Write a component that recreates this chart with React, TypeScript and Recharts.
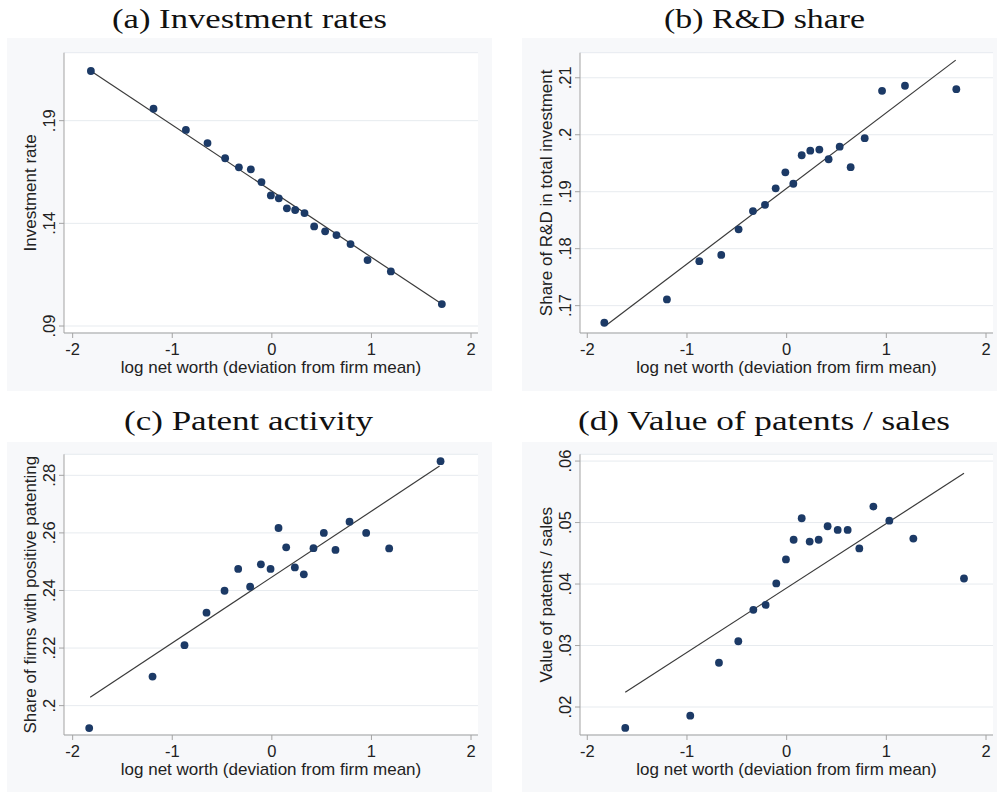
import { ScatterChart, Scatter, XAxis, YAxis, CartesianGrid, ReferenceLine } from 'recharts';

// shared x axis ticks: log net worth, deviation from firm mean
const xTicks = [-2, -1, 0, 1, 2];

// (a) investment rates
const invX = [-1.817, -1.188, -0.863, -0.646, -0.469, -0.331, -0.211, -0.104, -0.010, 0.070, 0.151, 0.234, 0.328, 0.425, 0.535, 0.649, 0.790, 0.961, 1.195, 1.707];
const invY = [0.2142, 0.1958, 0.1855, 0.1791, 0.1717, 0.1673, 0.1663, 0.1601, 0.1536, 0.1522, 0.1473, 0.1465, 0.1450, 0.1385, 0.1361, 0.1343, 0.1299, 0.1221, 0.1166, 0.1007];
const invTicks = [0.09, 0.14, 0.19];
const invFit = [[-1.817, 0.2142], [1.707, 0.1007]];

// (b) R&D share in total investment
const rdX = [-1.829, -1.201, -0.876, -0.656, -0.482, -0.338, -0.217, -0.110, -0.013, 0.067, 0.151, 0.237, 0.328, 0.421, 0.532, 0.642, 0.783, 0.957, 1.187, 1.702];
const rdY = [0.1670, 0.1711, 0.1778, 0.1789, 0.1834, 0.1866, 0.1877, 0.1906, 0.1934, 0.1914, 0.1964, 0.1972, 0.1974, 0.1957, 0.1979, 0.1943, 0.1994, 0.2077, 0.2086, 0.2080];
const rdTicks = [0.17, 0.18, 0.19, 0.2, 0.21];
const rdFit = [[-1.8, 0.1667], [1.696, 0.2131]];

// (c) share of firms with positive patenting
const patX = [-1.834, -1.198, -0.877, -0.656, -0.475, -0.338, -0.218, -0.110, -0.013, 0.067, 0.144, 0.231, 0.321, 0.418, 0.522, 0.639, 0.780, 0.947, 1.178, 1.694];
const patY = [0.1922, 0.2101, 0.2210, 0.2323, 0.2399, 0.2475, 0.2413, 0.2491, 0.2475, 0.2617, 0.2550, 0.2480, 0.2456, 0.2547, 0.2600, 0.2541, 0.2639, 0.2600, 0.2546, 0.2849];
const patTicks = [0.2, 0.22, 0.24, 0.26, 0.28];
const patFit = [[-1.824, 0.2029], [1.684, 0.2832]];

// (d) value of patents / sales
const valX = [-1.619, -0.967, -0.679, -0.485, -0.334, -0.211, -0.104, -0.007, 0.070, 0.151, 0.231, 0.321, 0.411, 0.512, 0.612, 0.729, 0.870, 1.030, 1.271, 1.779];
const valY = [0.0166, 0.0186, 0.0272, 0.0307, 0.0358, 0.0366, 0.0401, 0.0440, 0.0472, 0.0507, 0.0469, 0.0472, 0.0494, 0.0488, 0.0488, 0.0458, 0.0526, 0.0503, 0.0474, 0.0409];
const valTicks = [0.02, 0.03, 0.04, 0.05, 0.06];
const valFit = [[-1.619, 0.0224], [1.779, 0.058]];

const SANS = '"Liberation Sans", Arial, Helvetica, sans-serif';
const SERIF = '"Liberation Serif", "Times New Roman", serif';
const AXIS = '#a3a3a3';
const NAVY = '#1c3a66';

const fmtY = (v: number) => String(+v.toFixed(3)).replace(/^0\./, '.');

const XTick = (props: any) => {
  const { x, y, payload } = props;
  return (
    <text x={x} y={y} dy="0.71em" textAnchor="middle" fontSize={16.5} fontFamily={SANS} fill="#222">
      {String(payload.value)}
    </text>
  );
};

const YTick = (props: any) => {
  const { x, y, payload } = props;
  return (
    <text transform={`translate(${x},${y}) rotate(-90)`} textAnchor="middle" fontSize={16.5} fontFamily={SANS} fill="#222">
      {fmtY(payload.value)}
    </text>
  );
};

const Dot = (props: any) => <circle cx={props.cx} cy={props.cy} r={3.9} fill={NAVY} />;

interface PanelProps {
  left: number;
  top: number;
  width: number;
  height: number;
  top0: number;
  right0: number;
  yWidth: number;
  xHeight: number;
  xDomain: number[];
  yDomain: number[];
  yTicks: number[];
  xs: number[];
  ys: number[];
  fit: number[][];
  yLabel: string;
}

function Panel(p: PanelProps) {
  const data = p.xs.map((x, i) => ({ x, y: p.ys[i] }));
  return (
    <div style={{ position: 'absolute', left: p.left, top: p.top, width: p.width, height: p.height, background: '#f7f8fa' }}>
      <ScatterChart width={p.width} height={p.height} margin={{ top: p.top0, right: p.right0, bottom: 0, left: 0 }}>
        <CartesianGrid vertical={false} stroke="#e7ebef" fill="#fff" />
        <XAxis
          type="number"
          dataKey="x"
          domain={p.xDomain}
          ticks={xTicks}
          allowDataOverflow
          height={p.xHeight}
          stroke={AXIS}
          tickSize={5}
          tickMargin={5}
          tick={<XTick />}
          label={(lp: any) => {
            const vb = lp.viewBox;
            return (
              <text x={vb.x + vb.width / 2} y={vb.y + 39.5} textAnchor="middle" fontSize={17} fontFamily={SANS} fill="#222">
                log net worth (deviation from firm mean)
              </text>
            );
          }}
        />
        <YAxis
          type="number"
          dataKey="y"
          domain={p.yDomain}
          ticks={p.yTicks}
          allowDataOverflow
          width={p.yWidth}
          stroke={AXIS}
          tickSize={5}
          tickMargin={4}
          tick={<YTick />}
          label={(lp: any) => {
            const vb = lp.viewBox;
            const cx = vb.x + vb.width - 28;
            const cy = vb.y + vb.height / 2;
            return (
              <text transform={`translate(${cx},${cy}) rotate(-90)`} textAnchor="middle" fontSize={17} fontFamily={SANS} fill="#222">
                {p.yLabel}
              </text>
            );
          }}
        />
        <ReferenceLine
          segment={[{ x: p.fit[0][0], y: p.fit[0][1] }, { x: p.fit[1][0], y: p.fit[1][1] }]}
          stroke="#3a3a3a"
          strokeWidth={1.2}
          ifOverflow="visible"
        />
        <Scatter data={data} shape={Dot} isAnimationActive={false} />
      </ScatterChart>
    </div>
  );
}

export default function App() {
  const titles = [
    { text: '(a) Investment rates', cx: 249.5, y: 28, w: 275 },
    { text: '(b) R&D share', cx: 764.5, y: 28, w: 201 },
    { text: '(c) Patent activity', cx: 248.5, y: 430, w: 249 },
    { text: '(d) Value of patents / sales', cx: 764, y: 430, w: 372 },
  ];
  return (
    <div style={{ position: 'absolute', left: 0, top: 0, width: 997, height: 792, background: '#fff', overflow: 'hidden' }}>
      <svg width={997} height={792} style={{ position: 'absolute', left: 0, top: 0 }}>
        {titles.map((t) => (
          <text key={t.text} x={t.cx - t.w / 2} y={t.y} textLength={t.w} lengthAdjust="spacingAndGlyphs" fontSize={27} fontFamily={SERIF} fill="#111">
            {t.text}
          </text>
        ))}
      </svg>
      <Panel left={7} top={38} width={485} height={353} top0={14.7} right0={14} yWidth={57} xHeight={58}
        xDomain={[-2.087, 2.07]} yDomain={[0.0866, 0.2231]} yTicks={invTicks} xs={invX} ys={invY} fit={invFit} yLabel="Investment rate" />
      <Panel left={522} top={38} width={475} height={353} top0={14.7} right0={4} yWidth={58} xHeight={58}
        xDomain={[-2.073, 2.07]} yDomain={[0.1652, 0.2144]} yTicks={rdTicks} xs={rdX} ys={rdY} fit={rdFit} yLabel="Share of R&D in total investment" />
      <Panel left={7} top={442} width={485} height={350} top0={12.3} right0={14} yWidth={57} xHeight={57}
        xDomain={[-2.087, 2.07]} yDomain={[0.1898, 0.2873]} yTicks={patTicks} xs={patX} ys={patY} fit={patFit} yLabel="Share of firms with positive patenting" />
      <Panel left={522} top={442} width={475} height={350} top0={12.3} right0={4} yWidth={58} xHeight={57}
        xDomain={[-2.073, 2.07]} yDomain={[0.01545, 0.0611]} yTicks={valTicks} xs={valX} ys={valY} fit={valFit} yLabel="Value of patents / sales" />
    </div>
  );
}
